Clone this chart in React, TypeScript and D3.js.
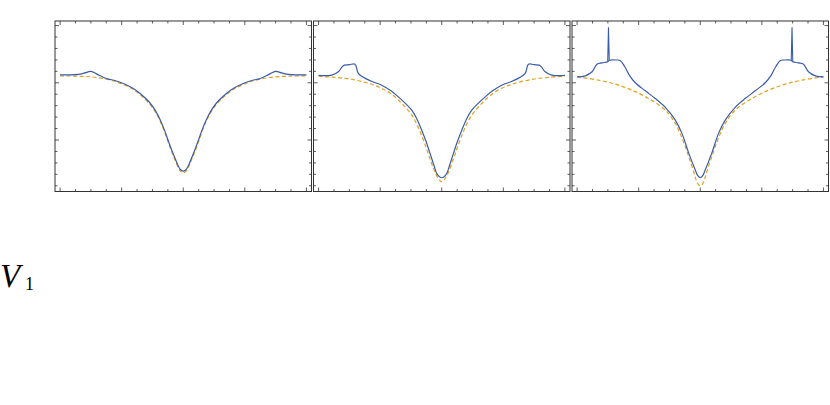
import React from 'react';
import * as d3 from 'd3';

// three panels, blue = solid curve, orange = dashed reference curve

const p1BlueX = [-8, -7.3, -6.7, -6.4, -6.0, -5.6, -5.0, -4.4, -3.9, -3.3, -2.8, -2.2, -1.8, -1.5, -1.2, -0.95, -0.7, -0.5, -0.3, -0.15, 0,
  0.15, 0.3, 0.5, 0.7, 0.95, 1.2, 1.5, 1.8, 2.2, 2.8, 3.3, 3.9, 4.4, 5.0, 5.6, 6.0, 6.4, 6.7, 7.3, 8];
const p1BlueY = [9.69, 9.70, 9.76, 9.86, 9.99, 9.76, 9.38, 9.18, 8.94, 8.55, 8.07, 7.30, 6.55, 5.78, 4.80, 3.85, 2.95, 2.3, 1.66, 1.38, 1.28,
  1.38, 1.66, 2.3, 2.95, 3.85, 4.80, 5.78, 6.55, 7.30, 8.07, 8.55, 8.94, 9.18, 9.38, 9.76, 9.99, 9.86, 9.76, 9.70, 9.69];

const p1OrangeX = [-8, -7, -6, -5, -4.4, -3.9, -3.3, -2.8, -2.2, -1.8, -1.5, -1.2, -0.95, -0.7, -0.5, -0.3, -0.15, 0,
  0.15, 0.3, 0.5, 0.7, 0.95, 1.2, 1.5, 1.8, 2.2, 2.8, 3.3, 3.9, 4.4, 5, 6, 7, 8];
const p1OrangeY = [9.61, 9.58, 9.52, 9.32, 9.11, 8.86, 8.46, 7.96, 7.18, 6.43, 5.65, 4.66, 3.70, 2.80, 2.15, 1.52, 1.24, 1.14,
  1.24, 1.52, 2.15, 2.80, 3.70, 4.66, 5.65, 6.43, 7.18, 7.96, 8.46, 8.86, 9.11, 9.32, 9.52, 9.58, 9.61];

const p2BlueX = [-8, -7.15, -6.72, -6.5, -6.33, -6.0, -5.63, -5.42, -4.87, -4.4, -3.9, -3.3, -2.82, -2.4, -1.95, -1.6, -1.3, -1.0, -0.76, -0.5, -0.33, -0.15, 0,
  0.15, 0.33, 0.5, 0.76, 1.0, 1.3, 1.6, 1.95, 2.4, 2.82, 3.3, 3.9, 4.4, 4.87, 5.42, 5.63, 6.0, 6.33, 6.5, 6.72, 7.15, 8];
const p2BlueY = [9.64, 9.67, 9.96, 10.34, 10.54, 10.58, 10.63, 9.82, 9.32, 9.05, 8.79, 8.30, 7.77, 7.25, 6.61, 5.80, 4.86, 3.80, 2.83, 1.75, 1.10, 0.79, 0.70,
  0.79, 1.10, 1.75, 2.83, 3.80, 4.86, 5.80, 6.61, 7.25, 7.77, 8.30, 8.79, 9.05, 9.32, 9.82, 10.63, 10.58, 10.54, 10.34, 9.96, 9.67, 9.64];

const p2OrangeX = [-8, -7, -6, -5, -4.4, -3.9, -3.3, -2.82, -2.4, -1.95, -1.6, -1.3, -1.0, -0.76, -0.5, -0.33, -0.15, 0,
  0.15, 0.33, 0.5, 0.76, 1.0, 1.3, 1.6, 1.95, 2.4, 2.82, 3.3, 3.9, 4.4, 5, 6, 7, 8];
const p2OrangeY = [9.58, 9.48, 9.33, 9.05, 8.80, 8.52, 8.05, 7.50, 6.92, 6.18, 5.33, 4.38, 3.28, 2.35, 1.38, 0.88, 0.48, 0.35,
  0.48, 0.88, 1.38, 2.35, 3.28, 4.38, 5.33, 6.18, 6.92, 7.50, 8.05, 8.52, 8.80, 9.05, 9.33, 9.48, 9.58];

const p3BlueX = [-8, -7.47, -7.03, -6.71, -6.38, -6.0, -5.9, -5.5, -5.2, -4.9, -4.6, -4.22, -3.57, -2.92, -2.27, -1.62, -1.19, -0.76, -0.32, -0.16, 0,
  0.16, 0.32, 0.76, 1.19, 1.62, 2.27, 2.92, 3.57, 4.22, 4.6, 4.9, 5.2, 5.5, 5.9, 6.0, 6.38, 6.71, 7.03, 7.47, 8];
const p3BlueY = [9.52, 9.61, 9.96, 10.63, 10.74, 10.84, 10.97, 10.99, 10.95, 10.4, 9.65, 9.0, 8.30, 7.62, 6.85, 5.74, 4.58, 2.90, 1.37, 0.88, 0.70,
  0.88, 1.37, 2.90, 4.58, 5.74, 6.85, 7.62, 8.30, 9.0, 9.65, 10.4, 10.95, 10.99, 10.97, 10.84, 10.74, 10.63, 9.96, 9.61, 9.52];

// the two narrow spikes on the blue curve of the third panel
const p3SpikeLX = [-6.01, -5.96, -5.91];
const p3SpikeLY = [10.86, 13.85, 10.95];
const p3SpikeRX = [5.91, 5.96, 6.01];
const p3SpikeRY = [10.95, 13.85, 10.86];

const p3OrangeX = [-8, -6.6, -5.52, -4.44, -3.36, -2.27, -1.62, -1.3, -0.97, -0.7, -0.43, -0.3, -0.2, -0.1, 0,
  0.1, 0.2, 0.3, 0.43, 0.7, 0.97, 1.3, 1.62, 2.27, 3.36, 4.44, 5.52, 6.6, 8];
const p3OrangeY = [9.52, 9.23, 8.88, 8.36, 7.63, 6.61, 5.45, 4.55, 3.41, 2.35, 1.25, 0.65, 0.28, 0.07, 0.0,
  0.07, 0.28, 0.65, 1.25, 2.35, 3.41, 4.55, 5.45, 6.61, 7.63, 8.36, 8.88, 9.23, 9.52];

const panels = [
  { blueX: p1BlueX, blueY: p1BlueY, orangeX: p1OrangeX, orangeY: p1OrangeY, spikes: [] as number[][][] },
  { blueX: p2BlueX, blueY: p2BlueY, orangeX: p2OrangeX, orangeY: p2OrangeY, spikes: [] as number[][][] },
  {
    blueX: p3BlueX, blueY: p3BlueY, orangeX: p3OrangeX, orangeY: p3OrangeY,
    spikes: [[p3SpikeLX, p3SpikeLY], [p3SpikeRX, p3SpikeRY]],
  },
];

const xTicks = d3.range(-8, 9, 1);
const yTicks = d3.range(0, 15, 1);

const panelLefts = [55, 313.5, 572];
const panelWidth = 256.5;
const top = 21;
const bottom = 191.5;

const BLUE = '#3a5ca8';
const ORANGE = '#e0a020';
const FRAME = '#333';

const zip = (xs: number[], ys: number[]) => xs.map((v, i) => [v, ys[i]] as [number, number]);

const Panel = ({ left, data }: { left: number; data: typeof panels[0] }) => {
  const x = d3.scaleLinear().domain([-8.33, 8.33]).range([left, left + panelWidth]);
  const y = d3.scaleLinear().domain([-0.5, 14.4]).range([bottom, top]);

  const smooth = d3
    .line<[number, number]>()
    .x(d => x(d[0]))
    .y(d => y(d[1]))
    .curve(d3.curveCatmullRom.alpha(0.5));

  const straight = d3
    .line<[number, number]>()
    .x(d => x(d[0]))
    .y(d => y(d[1]));

  const blue = zip(data.blueX, data.blueY);
  const orange = zip(data.orangeX, data.orangeY);

  const right = left + panelWidth;
  const xLen = (i: number) => (i % 4 === 0 ? 4 : 2.5);
  const yLen = (i: number) => (i % 5 === 4 ? 4 : 2.5);

  return (
    <g>
      <defs>
        <clipPath id={`clip-${left}`}>
          <rect x={left} y={top} width={panelWidth} height={bottom - top} />
        </clipPath>
      </defs>
      <g clipPath={`url(#clip-${left})`}>
        <path d={smooth(orange) || ''} fill="none" stroke={ORANGE} strokeWidth={1.2} strokeDasharray="4,2.5" />
        <path d={smooth(blue) || ''} fill="none" stroke={BLUE} strokeWidth={1.2} />
        {data.spikes.map((s, i) => (
          <path key={i} d={straight(zip(s[0], s[1])) || ''} fill="none" stroke={BLUE} strokeWidth={1.1} />
        ))}
      </g>
      {xTicks.map((t, i) => (
        <g key={`xt${i}`} stroke={FRAME} strokeWidth={0.8}>
          <line x1={x(t)} x2={x(t)} y1={bottom} y2={bottom - xLen(i)} />
          <line x1={x(t)} x2={x(t)} y1={top} y2={top + xLen(i)} />
        </g>
      ))}
      {yTicks.map((t, i) => (
        <g key={`yt${i}`} stroke={FRAME} strokeWidth={0.8}>
          <line x1={left} x2={left + yLen(i)} y1={y(t)} y2={y(t)} />
          <line x1={right} x2={right - yLen(i)} y1={y(t)} y2={y(t)} />
        </g>
      ))}
      <rect x={left} y={top} width={panelWidth} height={bottom - top} fill="none" stroke={FRAME} strokeWidth={1} />
    </g>
  );
};

const App = () => {
  return (
    <svg
      width={830}
      height={405}
      style={{ position: 'absolute', left: 0, top: 0, background: '#fff' }}
    >
      {panels.map((p, i) => (
        <Panel key={i} left={panelLefts[i]} data={p} />
      ))}
      <text x={0} y={287} fontFamily="'Liberation Serif', serif" fontStyle="italic" fontSize={33} fill="#000">
        V
      </text>
      <text x={25} y={290} fontFamily="'Liberation Serif', serif" fontSize={18} fill="#000">
        1
      </text>
    </svg>
  );
};

export default App;
